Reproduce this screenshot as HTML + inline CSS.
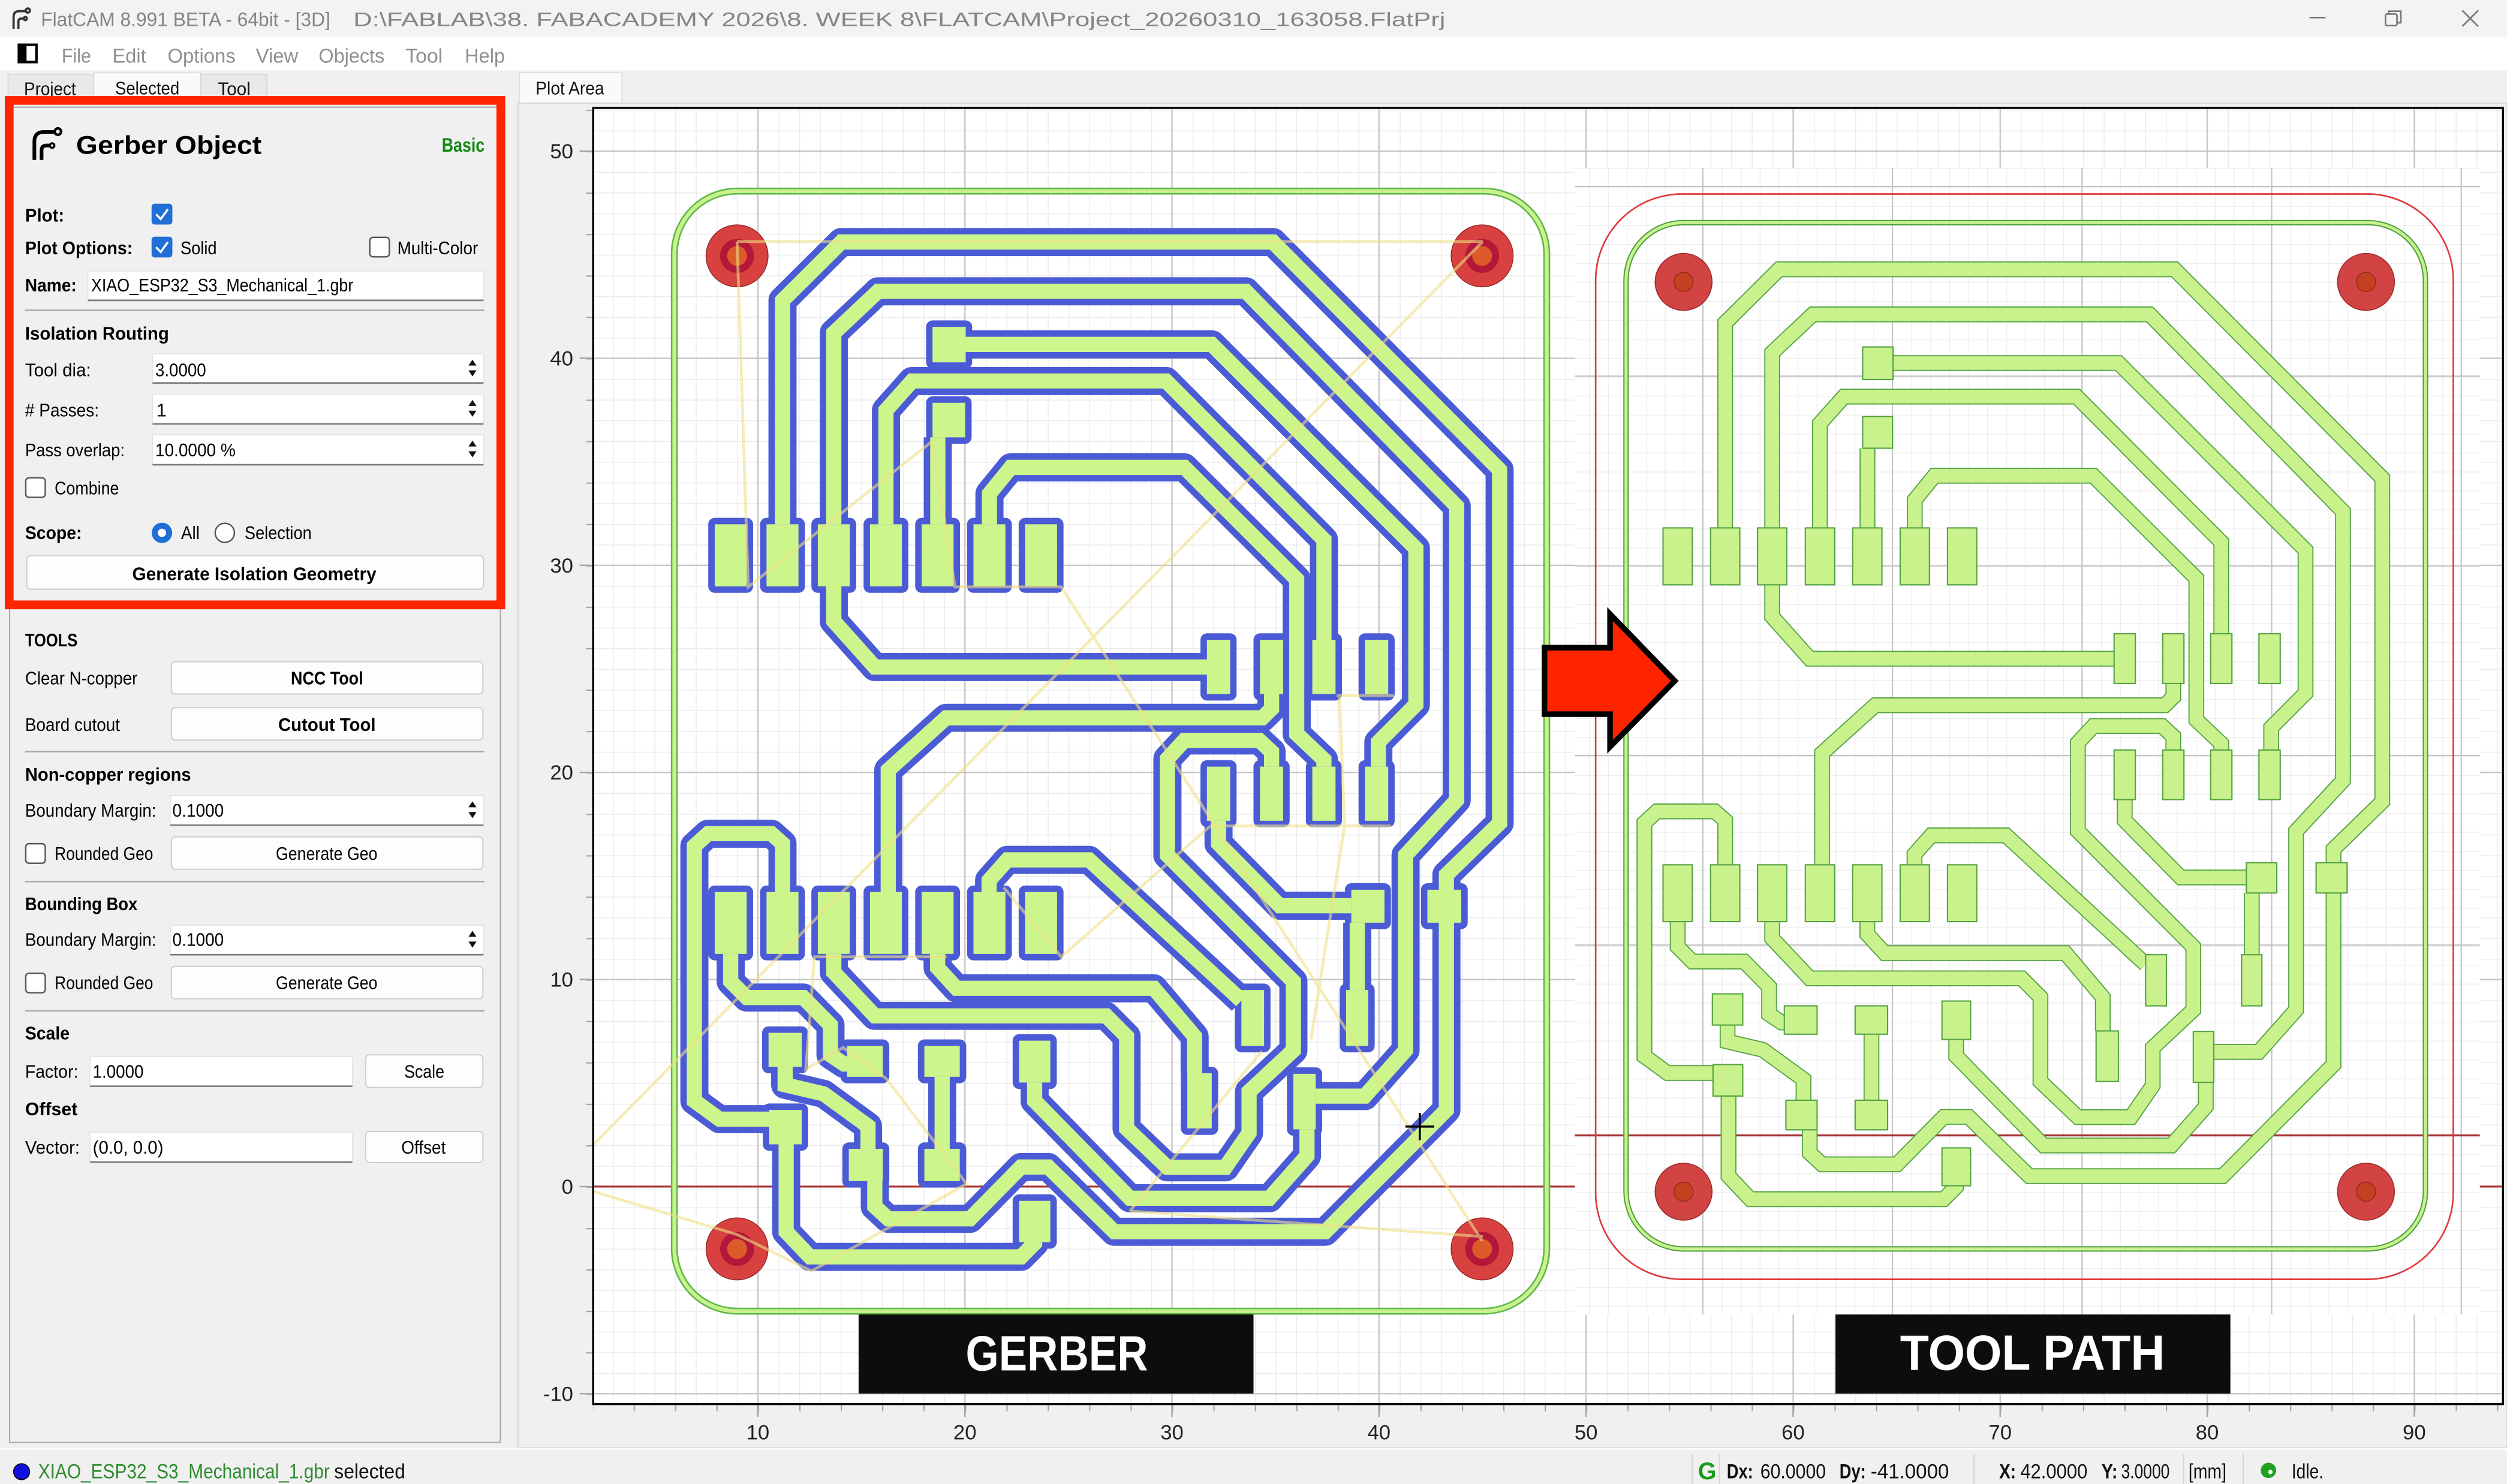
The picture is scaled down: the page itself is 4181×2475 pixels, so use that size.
<!DOCTYPE html>
<html><head><meta charset="utf-8"><title>FlatCAM</title>
<style>
html,body{margin:0;padding:0;background:#f0f0f0;overflow:hidden;}
svg{display:block;}
</style></head><body>
<svg xmlns="http://www.w3.org/2000/svg" xmlns:xlink="http://www.w3.org/1999/xlink" width="4181" height="2475" viewBox="0 0 1568 928" preserveAspectRatio="none" font-family="'Liberation Sans', Arial, sans-serif">
<defs>
 <pattern id="gmin" patternUnits="userSpaceOnUse" x="344.5" y="742" width="12.95" height="12.95"><rect width="0.55" height="12.95" fill="#ebebeb"/><rect width="12.95" height="0.55" fill="#ebebeb"/></pattern>
 <pattern id="gmin2" patternUnits="userSpaceOnUse" x="1065" y="710" width="11.86" height="11.86"><rect width="0.5" height="11.86" fill="#ececec"/><rect width="11.86" height="0.5" fill="#ececec"/></pattern>
 <pattern id="tkx" patternUnits="userSpaceOnUse" x="344.5" y="878.5" width="25.9" height="4"><rect width="0.8" height="4" fill="#a4a4a4"/></pattern>
 <pattern id="tky" patternUnits="userSpaceOnUse" x="366.5" y="742" width="5" height="25.9"><rect width="4.5" height="0.8" fill="#a4a4a4"/></pattern>
 <g id="tr" fill="none">
  <path d="M1079 330.1V201.9L1112.7 168.4H1360.1L1490 299V501.3L1459.5 531V665.7L1390.1 735.5H1269.2L1231.3 698.4H1215.7L1186.5 728.1H1139.6L1131.9 721V706.5"/>
  <path d="M1108.4 330.1V220.5L1133.8 196.6H1344.5L1465.4 319.8V488.1L1436.1 519.7V631.5L1412.7 657.8H1384.6"/>
  <path d="M1108.4 365.7V385.6L1131.9 411.9H1322.3"/>
  <path d="M1138.3 330.1V264.8L1153.3 248H1298.8L1389.3 339V396.3"/>
  <path d="M1168 330.1V280.3"/>
  <path d="M1197.6 330.1V312.6L1209.9 297.5H1309.3L1373.7 361.7V450.2L1389.3 465V469"/>
  <path d="M1184 227H1325L1442 344V433.4L1420.5 455V469"/>
  <path d="M1359.3 427.4V435.8L1354 441H1172.8L1139.6 471V540.8"/>
  <path d="M1359.3 469V460.5L1352.3 454H1309.3L1299.6 464.5V519.7L1371.8 592.1V631.5L1346.4 655.2V678.9L1332.8 698.6H1299.6L1276.2 676.3V623.6L1264.5 611.8H1131.9L1108.4 586.8V576.3"/>
  <path d="M1328.9 500V513.1L1364 548.7H1405M1408.4 558.4V597"/>
  <path d="M1167.9 576.3V584.2L1178.7 596H1291.8L1315.2 623.6V644.7"/>
  <path d="M1197.4 540.8V534.2L1207.9 522.4H1254.7L1342 603"/>
  <path d="M1049.3 576.3V592.1L1058.5 601.3H1090.9L1106.5 617.1V634.2L1114.3 639.4H1116"/>
  <path d="M1079 540.8V513.1L1072.6 507.4H1036.3L1028.5 514.5V660.5L1042.9 671H1071.4M1081.1 685.4V735.5L1094.8 749.9H1215.7L1223.5 742V741.5"/>
  <path d="M1080.5 641V651.3L1102.6 656.5L1128 675V688"/>
  <path d="M1170.5 646.7V688"/>
  <path d="M1223.5 650V660.5L1278.1 716.3H1358.1L1379.6 692V676.8"/>
 </g>
 <path id="pd" d="M1040.15 330.1h18.3v35.6h-18.3zM1069.85 330.1h18.3v35.6h-18.3zM1099.25 330.1h18.3v35.6h-18.3zM1129.15 330.1h18.3v35.6h-18.3zM1158.75 330.1h18.3v35.6h-18.3zM1188.45 330.1h18.3v35.6h-18.3zM1218.05 330.1h18.3v35.6h-18.3zM1040.15 540.8h18.3v35.5h-18.3zM1069.85 540.8h18.3v35.5h-18.3zM1099.25 540.8h18.3v35.5h-18.3zM1129.15 540.8h18.3v35.5h-18.3zM1158.75 540.8h18.3v35.5h-18.3zM1188.45 540.8h18.3v35.5h-18.3zM1218.05 540.8h18.3v35.5h-18.3zM1322.25 396.3h13.3v31.1h-13.3zM1352.65 396.3h13.3v31.1h-13.3zM1382.65 396.3h13.3v31.1h-13.3zM1412.85 396.3h13.3v31.1h-13.3zM1322.25 469h13.3v31h-13.3zM1352.65 469h13.3v31h-13.3zM1382.65 469h13.3v31h-13.3zM1412.85 469h13.3v31h-13.3zM1165 217h19v20.3h-19zM1165 260.5h18.7v19.8h-18.7zM1405 539.5h19v18.9h-19zM1448.6 539.5h19.4v18.9h-19.4zM1402 597h12.7v32h-12.7zM1342 597h13v32h-13zM1311 644.7h14v31.6h-14zM1371.8 645h12.8v31.8h-12.8zM1071 621.5h19v19.5h-19zM1071.4 665.7h18.6v19.7h-18.6zM1116 629h20.5v17.7h-20.5zM1117 688h19.5v18.5h-19.5zM1160.3 629h20.3v17.7h-20.3zM1160.3 688h20.3v18.5h-20.3zM1214.6 626h17.9v24h-17.9zM1214.6 717.8h17.9v23.7h-17.9z"/>
 <rect id="bo" x="1017" y="139.2" width="500" height="641.8" rx="36" ry="36" fill="none"/>
</defs>

<!-- window chrome -->
<rect x="0" y="0" width="1568" height="23" fill="#f3f3f3"/>
<rect x="0" y="23" width="1568" height="21" fill="#ffffff"/>
<rect x="0" y="44" width="1568" height="884" fill="#f0f0f0"/>
<g fill="none" stroke="#333" stroke-width="1.4">
 <path d="M8.5 18V10.5Q8.5 7 12 7H16"/><circle cx="17.4" cy="6.6" r="1.3"/>
 <path d="M11.5 18V13.5Q11.5 11.6 13.4 11.6H14.6"/><circle cx="15.8" cy="11.6" r="1"/>
</g>
<text x="25.6" y="16.3" font-size="12.3" fill="#858585" textLength="181" lengthAdjust="spacingAndGlyphs">FlatCAM 8.991 BETA - 64bit - [3D]</text>
<text x="221" y="16.3" font-size="12.3" fill="#858585" textLength="683" lengthAdjust="spacingAndGlyphs">D:\FABLAB\38. FABACADEMY 2026\8. WEEK 8\FLATCAM\Project_20260310_163058.FlatPrj</text>
<g stroke="#777" stroke-width="1" fill="none">
 <path d="M1444.5 11H1454.5"/>
 <rect x="1492" y="8.8" width="7.2" height="7.2" rx="1"/><path d="M1494 8.8V7H1501.6V14.2H1499.2"/>
 <path d="M1540 6.5L1550 16.5M1550 6.5L1540 16.5"/>
</g>
<rect x="11.8" y="28" width="11" height="10.8" fill="#fff" stroke="#000" stroke-width="1.6"/>
<rect x="11.8" y="28" width="4.8" height="10.8" fill="#000"/>
<g font-size="12.5" fill="#8f8f8f">
 <text x="38.6" y="39.2" textLength="18.4" lengthAdjust="spacingAndGlyphs">File</text>
 <text x="70.3" y="39.2" textLength="21.1" lengthAdjust="spacingAndGlyphs">Edit</text>
 <text x="104.8" y="39.2" textLength="42.5" lengthAdjust="spacingAndGlyphs">Options</text>
 <text x="160" y="39.2" textLength="26.5" lengthAdjust="spacingAndGlyphs">View</text>
 <text x="199.3" y="39.2" textLength="41.2" lengthAdjust="spacingAndGlyphs">Objects</text>
 <text x="253.5" y="39.2" textLength="23.4" lengthAdjust="spacingAndGlyphs">Tool</text>
 <text x="290.7" y="39.2" textLength="25.1" lengthAdjust="spacingAndGlyphs">Help</text>
</g>
<!-- tabs -->
<rect x="5" y="46.5" width="53.5" height="18" fill="#e9e9e9" stroke="#d6d6d6" stroke-width="0.6"/>
<rect x="58.7" y="45.5" width="66.6" height="19" fill="#f9f9f9" stroke="#dedede" stroke-width="0.6"/>
<rect x="125.6" y="46.5" width="41.3" height="18" fill="#e9e9e9" stroke="#d6d6d6" stroke-width="0.6"/>
<g font-size="11.5" fill="#111">
 <text x="15" y="59.5" textLength="32.5" lengthAdjust="spacingAndGlyphs">Project</text>
 <text x="72" y="59" textLength="40.2" lengthAdjust="spacingAndGlyphs">Selected</text>
 <text x="136.3" y="59.5" textLength="20.4" lengthAdjust="spacingAndGlyphs">Tool</text>
</g>
<rect x="325" y="45.5" width="64" height="19" fill="#fafafa" stroke="#dcdcdc" stroke-width="0.6"/>
<text x="335" y="59" font-size="11.5" fill="#111" textLength="42.9" lengthAdjust="spacingAndGlyphs">Plot Area</text>

<!-- left panel -->
<rect x="6" y="67" width="307" height="835" fill="#f0f0f0" stroke="#a8a8a8" stroke-width="0.8"/>
<g fill="none" stroke="#000" stroke-width="2.3">
 <path d="M21.5 100V88.5Q21.5 82.5 27.5 82.5H34"/><circle cx="36.2" cy="82.3" r="2" stroke-width="1.6"/>
 <path d="M26 100V94Q26 91 29 91H31"/><circle cx="32.6" cy="91" r="1.4" stroke-width="1.3"/>
</g>
<text x="47.6" y="96.2" font-size="16" font-weight="bold" fill="#000" textLength="116" lengthAdjust="spacingAndGlyphs">Gerber Object</text>
<text x="276.3" y="94.9" font-size="12" font-weight="bold" fill="#128a12" textLength="26.8" lengthAdjust="spacingAndGlyphs">Basic</text>

<!-- checkboxes -->
<rect x="94.8" y="127.4" width="13" height="13" rx="2" fill="#1f6fd6"/>
<path d="M97.6 134L100.5 137L105 130.8" fill="none" stroke="#fff" stroke-width="1.3"/>
<rect x="94.8" y="148" width="13" height="13" rx="2" fill="#1f6fd6"/>
<path d="M97.6 154.6L100.5 157.6L105 151.4" fill="none" stroke="#fff" stroke-width="1.3"/>
<rect x="231.3" y="148.4" width="12.2" height="12.2" rx="2" fill="#fff" stroke="#555" stroke-width="0.9"/>
<rect x="16.1" y="298.8" width="12.2" height="12.2" rx="2" fill="#fff" stroke="#555" stroke-width="0.9"/>
<rect x="16.1" y="527.6" width="12.2" height="12.2" rx="2" fill="#fff" stroke="#555" stroke-width="0.9"/>
<rect x="16.1" y="608.6" width="12.2" height="12.2" rx="2" fill="#fff" stroke="#555" stroke-width="0.9"/>
<circle cx="101.3" cy="333.2" r="6.4" fill="#1f6fd6"/><circle cx="101.3" cy="333.2" r="2.6" fill="#fff"/>
<circle cx="140.6" cy="333.2" r="6" fill="#fff" stroke="#555" stroke-width="0.9"/>

<!-- inputs -->
<g fill="#fff" stroke="#e2e2e2" stroke-width="0.6">
 <rect x="55" y="169.5" width="247.4" height="18.3"/>
 <rect x="95.4" y="221.3" width="207" height="18.2"/>
 <rect x="95.4" y="246.5" width="207" height="18.6"/>
 <rect x="95.4" y="271.8" width="207" height="18.8"/>
 <rect x="106.5" y="497.5" width="195.9" height="18.5"/>
 <rect x="106.5" y="578.6" width="195.9" height="18.4"/>
 <rect x="56.3" y="660.8" width="164.1" height="18.5"/>
 <rect x="56.3" y="708" width="164.1" height="18.7"/>
</g>
<g stroke="#7c7c7c" stroke-width="1">
 <path d="M55 187.8H302.4M95.4 239.5H302.4M95.4 265.1H302.4M95.4 290.6H302.4M106.5 516H302.4M106.5 597H302.4M56.3 679.3H220.4M56.3 726.7H220.4"/>
</g>
<g fill="#111">
 <path d="M293 228.6H298L295.5 224.9ZM293 231.6H298L295.5 235.4Z"/>
 <path d="M293 253.8H298L295.5 250.1ZM293 256.8H298L295.5 260.6Z"/>
 <path d="M293 279.2H298L295.5 275.5ZM293 282.2H298L295.5 286Z"/>
 <path d="M293 504.8H298L295.5 501.1ZM293 507.8H298L295.5 511.6Z"/>
 <path d="M293 585.8H298L295.5 582.1ZM293 588.8H298L295.5 592.6Z"/>
</g>
<!-- buttons -->
<g fill="#fdfdfd" stroke="#cfcfcf" stroke-width="0.8">
 <rect x="16.7" y="347.4" width="285.7" height="21" rx="2.5"/>
 <rect x="107.2" y="413.8" width="194.8" height="20.2" rx="2.5"/>
 <rect x="107.2" y="442.5" width="194.8" height="20.3" rx="2.5"/>
 <rect x="107.2" y="523.3" width="194.8" height="20.3" rx="2.5"/>
 <rect x="107.2" y="604.3" width="194.8" height="20.3" rx="2.5"/>
 <rect x="228.7" y="659.6" width="73.3" height="20.4" rx="2.5"/>
 <rect x="228.7" y="707.5" width="73.3" height="19.5" rx="2.5"/>
</g>
<g stroke="#a8a8a8" stroke-width="0.9">
 <path d="M15.7 194H303M15.7 470H303M15.7 551.3H303M15.7 632.1H303"/>
</g>
<g font-size="11.5" fill="#000">
 <text x="15.7" y="138.5" font-weight="bold" textLength="24.5" lengthAdjust="spacingAndGlyphs">Plot:</text>
 <text x="15.7" y="159" font-weight="bold" textLength="67.3" lengthAdjust="spacingAndGlyphs">Plot Options:</text>
 <text x="112.9" y="159" textLength="22.7" lengthAdjust="spacingAndGlyphs">Solid</text>
 <text x="248.5" y="159" textLength="50.5" lengthAdjust="spacingAndGlyphs">Multi-Color</text>
 <text x="15.7" y="182.3" font-weight="bold" textLength="32.2" lengthAdjust="spacingAndGlyphs">Name:</text>
 <text x="57" y="182.3" textLength="164" lengthAdjust="spacingAndGlyphs">XIAO_ESP32_S3_Mechanical_1.gbr</text>
 <text x="15.7" y="212.4" font-weight="bold" textLength="90" lengthAdjust="spacingAndGlyphs">Isolation Routing</text>
 <text x="15.7" y="235.3" textLength="41.2" lengthAdjust="spacingAndGlyphs">Tool dia:</text>
 <text x="97.1" y="235.3" textLength="31.8" lengthAdjust="spacingAndGlyphs">3.0000</text>
 <text x="15.7" y="260.4" textLength="46.2" lengthAdjust="spacingAndGlyphs"># Passes:</text>
 <text x="97.8" y="260.4">1</text>
 <text x="15.7" y="285.3" textLength="62.3" lengthAdjust="spacingAndGlyphs">Pass overlap:</text>
 <text x="97.1" y="285.3" textLength="50.2" lengthAdjust="spacingAndGlyphs">10.0000 %</text>
 <text x="34.2" y="309.2" textLength="40.2" lengthAdjust="spacingAndGlyphs">Combine</text>
 <text x="15.7" y="337" font-weight="bold" textLength="35.5" lengthAdjust="spacingAndGlyphs">Scope:</text>
 <text x="113.2" y="337" textLength="11.7" lengthAdjust="spacingAndGlyphs">All</text>
 <text x="153" y="337" textLength="41.9" lengthAdjust="spacingAndGlyphs">Selection</text>
 <text x="82.7" y="362.7" font-weight="bold" textLength="152.7" lengthAdjust="spacingAndGlyphs">Generate Isolation Geometry</text>
 <text x="15.7" y="404.2" font-weight="bold" textLength="32.8" lengthAdjust="spacingAndGlyphs">TOOLS</text>
 <text x="15.7" y="428.1" textLength="70.3" lengthAdjust="spacingAndGlyphs">Clear N-copper</text>
 <text x="181.9" y="428.1" font-weight="bold" textLength="45.2" lengthAdjust="spacingAndGlyphs">NCC Tool</text>
 <text x="15.7" y="457" textLength="59.3" lengthAdjust="spacingAndGlyphs">Board cutout</text>
 <text x="174" y="457" font-weight="bold" textLength="61" lengthAdjust="spacingAndGlyphs">Cutout Tool</text>
 <text x="15.7" y="488.1" font-weight="bold" textLength="103.8" lengthAdjust="spacingAndGlyphs">Non-copper regions</text>
 <text x="15.7" y="510.6" textLength="82" lengthAdjust="spacingAndGlyphs">Boundary Margin:</text>
 <text x="107.8" y="510.6" textLength="32.2" lengthAdjust="spacingAndGlyphs">0.1000</text>
 <text x="34.2" y="537.7" textLength="61.6" lengthAdjust="spacingAndGlyphs">Rounded Geo</text>
 <text x="172.5" y="537.7" textLength="63.6" lengthAdjust="spacingAndGlyphs">Generate Geo</text>
 <text x="15.7" y="569.2" font-weight="bold" textLength="70.3" lengthAdjust="spacingAndGlyphs">Bounding Box</text>
 <text x="15.7" y="591.5" textLength="82" lengthAdjust="spacingAndGlyphs">Boundary Margin:</text>
 <text x="107.8" y="591.5" textLength="32.2" lengthAdjust="spacingAndGlyphs">0.1000</text>
 <text x="34.2" y="618.5" textLength="61.6" lengthAdjust="spacingAndGlyphs">Rounded Geo</text>
 <text x="172.5" y="618.5" textLength="63.6" lengthAdjust="spacingAndGlyphs">Generate Geo</text>
 <text x="15.7" y="650" font-weight="bold" textLength="27.8" lengthAdjust="spacingAndGlyphs">Scale</text>
 <text x="15.7" y="674" textLength="33.2" lengthAdjust="spacingAndGlyphs">Factor:</text>
 <text x="58" y="674" textLength="31.8" lengthAdjust="spacingAndGlyphs">1.0000</text>
 <text x="252.8" y="674" textLength="25.1" lengthAdjust="spacingAndGlyphs">Scale</text>
 <text x="15.7" y="697.4" font-weight="bold" textLength="32.8" lengthAdjust="spacingAndGlyphs">Offset</text>
 <text x="15.7" y="721.4" textLength="34.2" lengthAdjust="spacingAndGlyphs">Vector:</text>
 <text x="58" y="721.4" textLength="44.2" lengthAdjust="spacingAndGlyphs">(0.0, 0.0)</text>
 <text x="251" y="721.4" textLength="27.8" lengthAdjust="spacingAndGlyphs">Offset</text>
</g>
<!-- red highlight -->
<rect x="5.75" y="62.75" width="307.5" height="315.5" fill="none" stroke="#ff2400" stroke-width="5.5"/>

<!-- plot widget -->
<rect x="324" y="64.5" width="1244" height="841" fill="#f0f0f0" stroke="#d8d8d8" stroke-width="0.8"/>
<rect x="371" y="67.5" width="1194.5" height="810.5" fill="#fff"/>
<rect x="371" y="67.5" width="1194.5" height="810.5" fill="url(#gmin)"/>
<path d="M474 67.5V878M603.5 67.5V878M733 67.5V878M862.5 67.5V878M992 67.5V878M1121.5 67.5V878M1251 67.5V878M1380.5 67.5V878M1510 67.5V878M371 94.5H1565.5M371 224H1565.5M371 353.5H1565.5M371 483H1565.5M371 612.5H1565.5M371 871.5H1565.5" stroke="#c4c4c4" stroke-width="0.8" fill="none"/>
<path d="M371 742H1565.5" stroke="#a83232" stroke-width="1.2"/>

<!-- left board (gerber + isolation) -->
<g transform="matrix(1.0913 0 0 1.0913 -688.1 -32.4)">
 <use xlink:href="#bo" href="#bo" stroke="#5fb84a" stroke-width="4"/>
 <use xlink:href="#bo" href="#bo" stroke="#c9f28e" stroke-width="2.2"/>
 <use xlink:href="#tr" href="#tr" stroke="#4b5bd6" stroke-width="16.1" stroke-linejoin="round"/>
 <use xlink:href="#pd" href="#pd" fill="#4b5bd6" stroke="#4b5bd6" stroke-width="7.4" stroke-linejoin="round"/>
 <use xlink:href="#tr" href="#tr" stroke="#ccf58c" stroke-width="8.7" stroke-linejoin="miter"/>
 <use xlink:href="#pd" href="#pd" fill="#ccf58c"/>
</g>
<g>
 <circle cx="461" cy="160" r="19.4" fill="#d8413f" stroke="#8a2424" stroke-width="0.5"/><circle cx="461" cy="160" r="10.6" fill="#b3183a"/><circle cx="461" cy="160" r="6.2" fill="#dd5a2a"/>
 <circle cx="927" cy="160" r="19.4" fill="#d8413f" stroke="#8a2424" stroke-width="0.5"/><circle cx="927" cy="160" r="10.6" fill="#b3183a"/><circle cx="927" cy="160" r="6.2" fill="#dd5a2a"/>
 <circle cx="461" cy="781" r="19.4" fill="#d8413f" stroke="#8a2424" stroke-width="0.5"/><circle cx="461" cy="781" r="10.6" fill="#b3183a"/><circle cx="461" cy="781" r="6.2" fill="#dd5a2a"/>
 <circle cx="927" cy="781" r="19.4" fill="#d8413f" stroke="#8a2424" stroke-width="0.5"/><circle cx="927" cy="781" r="10.6" fill="#b3183a"/><circle cx="927" cy="781" r="6.2" fill="#dd5a2a"/>
</g>
<path d="M461 151H927.4M461 151L468 367L583 276L597.3 367H663.7L927 776M927.4 151L371 716M836 435H871.8M837.7 435L841 516L820 650M757 516.5H870M627.8 555L663.7 598.3L757 516.5M371 745L461 772L507.6 794.8L604.5 740.3L554.2 674.4L527.3 655.1L504 668.7L509.4 598.3H592M706.7 757.3L927.4 773.3M706.7 757.3L789.2 657.4" fill="none" stroke="#efdf86" stroke-opacity="0.6" stroke-width="1.8"/>
<path d="M879 704.5H897M888 696V713" stroke="#000" stroke-width="1.3"/>

<!-- pasted tool path view -->
<rect x="985" y="105" width="566" height="717" fill="#fff"/>
<rect x="985" y="105" width="566" height="717" fill="url(#gmin2)"/>
<path d="M1065 105V822M1183.6 105V822M1302.2 105V822M1420.8 105V822M1539.4 105V822M985 116.6H1551M985 235.2H1551M985 353.8H1551M985 472.4H1551M985 591H1551" stroke="#c4c4c4" stroke-width="0.8" fill="none"/>
<path d="M985 710H1551" stroke="#a83232" stroke-width="1.2"/>
<rect x="998" y="121.3" width="536.4" height="678.7" rx="54" ry="54" fill="none" stroke="#e03a3a" stroke-width="1"/>
<use xlink:href="#bo" href="#bo" stroke="#4f9e3f" stroke-width="3.4"/>
<use xlink:href="#bo" href="#bo" stroke="#c9f28e" stroke-width="1.9"/>
<use xlink:href="#tr" href="#tr" stroke="#55a244" stroke-width="9.9" stroke-linejoin="miter"/>
<use xlink:href="#tr" href="#tr" stroke="#c9f28c" stroke-width="8.5" stroke-linejoin="miter"/>
<use xlink:href="#pd" href="#pd" fill="#c9f28c" stroke="#55a244" stroke-width="0.8"/>
<g>
 <circle cx="1053" cy="176.3" r="17.8" fill="#d24444" stroke="#9c2a2a" stroke-width="0.6"/><circle cx="1053" cy="176.3" r="6" fill="#c4401e" stroke="#8a2a1a" stroke-width="0.5"/>
 <circle cx="1479.8" cy="176.3" r="17.8" fill="#d24444" stroke="#9c2a2a" stroke-width="0.6"/><circle cx="1479.8" cy="176.3" r="6" fill="#c4401e" stroke="#8a2a1a" stroke-width="0.5"/>
 <circle cx="1053" cy="745.2" r="17.8" fill="#d24444" stroke="#9c2a2a" stroke-width="0.6"/><circle cx="1053" cy="745.2" r="6" fill="#c4401e" stroke="#8a2a1a" stroke-width="0.5"/>
 <circle cx="1479.8" cy="745.2" r="17.8" fill="#d24444" stroke="#9c2a2a" stroke-width="0.6"/><circle cx="1479.8" cy="745.2" r="6" fill="#c4401e" stroke="#8a2a1a" stroke-width="0.5"/>
</g>

<!-- arrow -->
<path d="M966 405H1007V384L1047.5 425.8L1007 467V446.6H966Z" fill="#ff2400" stroke="#000" stroke-width="3.5" stroke-linejoin="miter"/>

<!-- labels -->
<rect x="537" y="822" width="247" height="49.5" fill="#0d0d0d"/>
<rect x="1148" y="822" width="247" height="49.5" fill="#0d0d0d"/>
<text x="604" y="857" font-size="31" font-weight="bold" fill="#fff" textLength="114" lengthAdjust="spacingAndGlyphs">GERBER</text>
<text x="1188.4" y="856.5" font-size="31" font-weight="bold" fill="#fff" textLength="165.6" lengthAdjust="spacingAndGlyphs">TOOL PATH</text>

<!-- axes -->
<rect x="366.5" y="67.5" width="4.5" height="810.5" fill="url(#tky)"/>
<rect x="371" y="878.5" width="1194.5" height="4" fill="url(#tkx)"/>
<path d="M362.5 94.5H371M362.5 224H371M362.5 353.5H371M362.5 483H371M362.5 612.5H371M362.5 742H371M362.5 871.5H371M474 878.5V886M603.5 878.5V886M733 878.5V886M862.5 878.5V886M992 878.5V886M1121.5 878.5V886M1251 878.5V886M1380.5 878.5V886M1510 878.5V886" stroke="#a4a4a4" stroke-width="0.9"/>
<rect x="371" y="67.5" width="1194.5" height="810.5" fill="none" stroke="#000" stroke-width="1.3"/>
<g font-size="13" fill="#222" text-anchor="end">
 <text x="358.5" y="99">50</text>
 <text x="358.5" y="228.5">40</text>
 <text x="358.5" y="358">30</text>
 <text x="358.5" y="487.5">20</text>
 <text x="358.5" y="617">10</text>
 <text x="358.5" y="746.5">0</text>
 <text x="358.5" y="876">-10</text>
</g>
<g font-size="13" fill="#222" text-anchor="middle">
 <text x="474" y="900">10</text>
 <text x="603.5" y="900">20</text>
 <text x="733" y="900">30</text>
 <text x="862.5" y="900">40</text>
 <text x="992" y="900">50</text>
 <text x="1121.5" y="900">60</text>
 <text x="1251" y="900">70</text>
 <text x="1380.5" y="900">80</text>
 <text x="1510" y="900">90</text>
</g>

<!-- status bar -->
<path d="M0 906H1568" stroke="#fafafa" stroke-width="1"/>
<circle cx="13.5" cy="920.3" r="5" fill="#1010e0" stroke="#000" stroke-width="0.6"/>
<text x="23.9" y="924.4" font-size="13" fill="#2e8b2e" textLength="182.3" lengthAdjust="spacingAndGlyphs">XIAO_ESP32_S3_Mechanical_1.gbr</text>
<text x="209" y="924.4" font-size="13" fill="#111" textLength="44.5" lengthAdjust="spacingAndGlyphs">selected</text>
<path d="M1058.4 909V928M1075.5 909V928M1234.7 909V928M1365.7 909V928M1403 909V928" stroke="#d6d6d6" stroke-width="0.8"/>
<text x="1062" y="925" font-size="15" font-weight="bold" fill="#1a9a1a" textLength="11.5" lengthAdjust="spacingAndGlyphs">G</text>
<g font-size="13" fill="#111">
 <text x="1080" y="924.4" font-weight="bold" textLength="16.5" lengthAdjust="spacingAndGlyphs">Dx:</text>
 <text x="1101" y="924.4" textLength="41" lengthAdjust="spacingAndGlyphs">60.0000</text>
 <text x="1150.5" y="924.4" font-weight="bold" textLength="16.5" lengthAdjust="spacingAndGlyphs">Dy:</text>
 <text x="1170" y="924.4" textLength="49" lengthAdjust="spacingAndGlyphs">-41.0000</text>
 <text x="1250.4" y="924.4" font-weight="bold" textLength="10.5" lengthAdjust="spacingAndGlyphs">X:</text>
 <text x="1263.6" y="924.4" textLength="42" lengthAdjust="spacingAndGlyphs">42.0000</text>
 <text x="1314.4" y="924.4" font-weight="bold" textLength="10" lengthAdjust="spacingAndGlyphs">Y:</text>
 <text x="1326.7" y="924.4" textLength="30.3" lengthAdjust="spacingAndGlyphs">3.0000</text>
 <text x="1368.8" y="924.4" textLength="23.7" lengthAdjust="spacingAndGlyphs">[mm]</text>
 <text x="1433.3" y="924.4" textLength="20" lengthAdjust="spacingAndGlyphs">Idle.</text>
</g>
<circle cx="1418.8" cy="919.5" r="4.8" fill="#22a022"/><circle cx="1420" cy="920.5" r="1.4" fill="#e8ffe8"/>
</svg>
</body></html>
